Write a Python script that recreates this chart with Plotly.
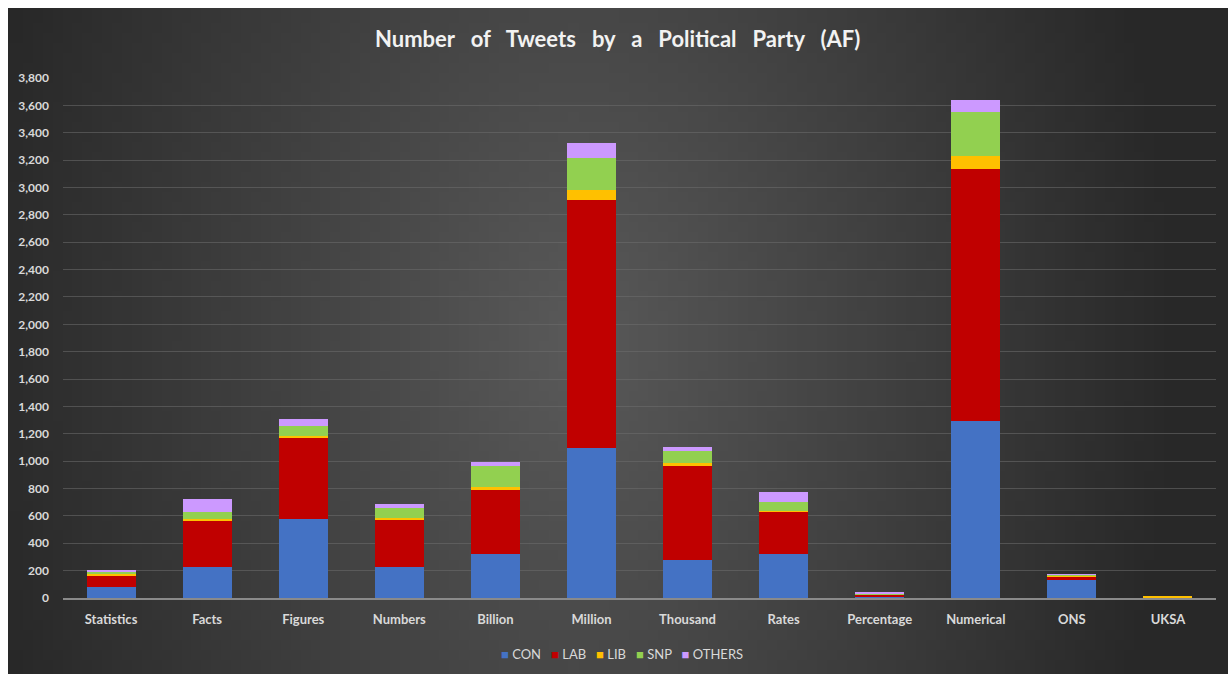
import base64, struct, zlib
import plotly.graph_objects as go

categories = ["Statistics", "Facts", "Figures", "Numbers", "Billion", "Million",
              "Thousand", "Rates", "Percentage", "Numerical", "ONS", "UKSA"]
con = [78, 224, 575, 224, 322, 1096, 278, 319, 8, 1293, 129, 1]
lab = [88, 336, 592, 351, 467, 1812, 686, 312, 15, 1842, 29, 0]
lib = [10, 15, 15, 7, 22, 74, 22, 7, 2, 95, 3, 14]
snp = [17, 56, 78, 79, 154, 233, 88, 63, 2, 322, 12, 0]
others = [14, 90, 46, 24, 29, 110, 29, 75, 15, 87, 2, 0]

series = [("CON", con, "#4472C4"), ("LAB", lab, "#C00000"), ("LIB", lib, "#FFC000"),
          ("SNP", snp, "#92D050"), ("OTHERS", others, "#CC99FF")]


def gradient_png(w, h):
    raw = b""
    cx, cy, rx, ry = 0.46 * w, 0.5 * h, 0.5 * w, 1.35 * h
    for j in range(h):
        row = bytearray([0])
        for i in range(w):
            r = (((i - cx) / rx) ** 2 + ((j - cy) / ry) ** 2) ** 0.5
            r = min(r, 1.0)
            row.append(int(90 - 50 * r))
        raw += bytes(row)

    def chunk(t, d):
        c = struct.pack(">I", len(d)) + t + d
        return c + struct.pack(">I", zlib.crc32(t + d) & 0xffffffff)

    png = b"\x89PNG\r\n\x1a\n"
    png += chunk(b"IHDR", struct.pack(">IIBBBBB", w, h, 8, 0, 0, 0, 0))
    png += chunk(b"IDAT", zlib.compress(raw))
    png += chunk(b"IEND", b"")
    return "data:image/png;base64," + base64.b64encode(png).decode()


fig = go.Figure()
for name, vals, color in series:
    fig.add_trace(go.Bar(name=name, x=categories, y=vals, marker_color=color,
                         marker_line_width=0, showlegend=False))

W, H = 1228, 676
L, R, T, B = 63, 12, 78, 78
pw, ph = W - L - R, H - T - B
x0 = (8 - L) / pw
x1 = (W - L) / pw
y1 = 1 + (T - 8) / ph
y0 = -(674 - (H - B)) / ph

fig.add_layout_image(dict(source=gradient_png(123, 67), xref="paper", yref="paper",
                          x=x0, y=y1, sizex=x1 - x0, sizey=y1 - y0,
                          xanchor="left", yanchor="top", sizing="stretch",
                          layer="below"))

# compact Excel-style legend built from the series names/colours
legend_html = "&nbsp;&nbsp;&nbsp;".join(
    f"<span style='color:{c}'>■</span>&nbsp;{n}" for n, _, c in series)
fig.add_annotation(text=legend_html, xref="paper", yref="paper",
                   x=(622 - L) / pw, y=-(654 - (H - B)) / ph,
                   xanchor="center", yanchor="middle", showarrow=False,
                   font=dict(family="Lato", size=13, color="#d9d9d9"))

fig.update_layout(
    width=W, height=H,
    barmode="stack", bargap=0.49,
    paper_bgcolor="white", plot_bgcolor="rgba(0,0,0,0)",
    margin=dict(l=L, r=R, t=T, b=B, autoexpand=False),
    title=dict(text="<b>Number   of   Tweets   by   a   Political   Party   (AF)</b>",
               x=0.503, xanchor="center", y=0.942, yanchor="middle",
               font=dict(family="Lato", size=22, color="#f2f2f2")),
    font=dict(family="Lato", color="#d9d9d9", size=12),
    showlegend=False,
)
fig.update_xaxes(showgrid=False, showline=True, linecolor="#8a8a8a", linewidth=2,
                 tickfont=dict(family="Lato", size=13, color="#d9d9d9", weight="bold"),
                 ticks="", ticklabelstandoff=8, automargin=False)
fig.update_yaxes(range=[0, 3800], dtick=200, tickformat=",", showgrid=True,
                 gridcolor="rgba(110,110,110,0.55)", gridwidth=1, zeroline=False,
                 tickfont=dict(family="Lato", size=12, color="#d9d9d9", weight="bold"),
                 ticks="", ticklabelstandoff=13, automargin=False)

fig.write_html("out.html")
